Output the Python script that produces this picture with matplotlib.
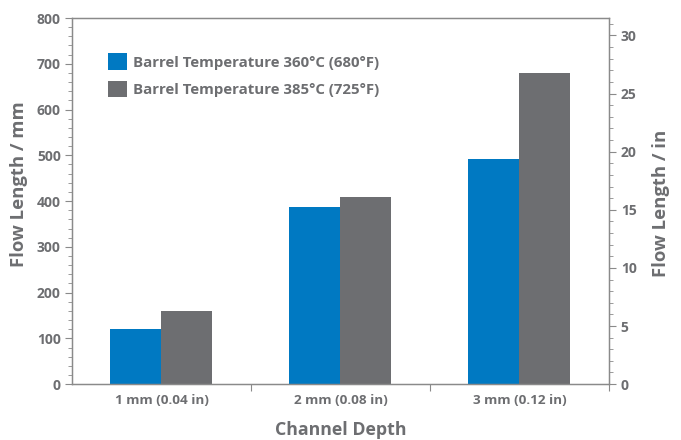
import numpy as np
import matplotlib.pyplot as plt
from matplotlib.ticker import MultipleLocator

plt.rcParams['font.family'] = ['Open Sans', 'DejaVu Sans']
plt.rcParams['font.weight'] = 'bold'

categories = ["1 mm (0.04 in)", "2 mm (0.08 in)", "3 mm (0.12 in)"]
flow_360 = [120, 388, 492]
flow_385 = [160, 410, 680]
labels = ["Barrel Temperature 360\u00b0C (680\u00b0F)", "Barrel Temperature 385\u00b0C (725\u00b0F)"]

blue = "#0079c2"
grey = "#6d6e71"
text_col = "#6d6e71"
axis_col = "#8a8a8a"

fig = plt.figure(figsize=(6.81, 4.40), dpi=100)
ax = fig.add_axes([0.1057, 0.127, 0.7885, 0.832])

x = np.arange(len(categories))
w = 0.285
ax.bar(x - w / 2, flow_360, w, color=blue, label=labels[0])
ax.bar(x + w / 2, flow_385, w, color=grey, label=labels[1])

ax.set_xlim(-0.5, 2.5)
ax.set_ylim(0, 800)
ax.yaxis.set_major_locator(MultipleLocator(100))
ax.yaxis.set_minor_locator(MultipleLocator(20))
ax.set_xticks([0.5, 1.5, 2.5])
ax.set_xticklabels([])
ax.set_xticks(x, minor=True)
ax.set_xticklabels(categories, minor=True)
ax.tick_params(axis='x', which='minor', length=0, pad=7, labelsize=9.7)
ax.tick_params(axis='x', which='major', length=5, color=axis_col)
ax.tick_params(axis='y', which='major', length=5, color=axis_col, pad=3, labelsize=10)
ax.tick_params(axis='y', which='minor', length=3, color=axis_col)
ax.tick_params(which='both', labelcolor=text_col)
for s in ax.spines.values():
    s.set_color(axis_col)
    s.set_linewidth(1)

ax.set_ylabel("Flow Length / mm", fontsize=13.3, fontweight='bold', color=text_col)
ax.yaxis.set_label_coords(-0.082, 0.546)
ax.set_xlabel("Channel Depth", fontsize=12.8, fontweight='bold', color=text_col, labelpad=10)

ax2 = ax.twinx()
ax2.set_ylim(0, 800 / 25.4)
ax2.yaxis.set_major_locator(MultipleLocator(5))
ax2.yaxis.set_minor_locator(MultipleLocator(1))
ax2.tick_params(axis='y', which='major', length=5, color=axis_col, labelsize=10, labelcolor=text_col)
ax2.tick_params(axis='y', which='minor', length=3, color=axis_col)
for s in ax2.spines.values():
    s.set_color(axis_col)
ax2.set_ylabel("Flow Length / in", fontsize=13.3, fontweight='bold', color=text_col)
ax2.yaxis.set_label_coords(1.08, 0.495)

for lab in ax.get_xticklabels(minor=True) + ax.get_yticklabels() + ax2.get_yticklabels():
    lab.set_fontweight('bold')

leg = ax.legend(loc='upper left', bbox_to_anchor=(0.055, 0.92), frameon=False,
                handlelength=1.3, handleheight=1.3, handletextpad=0.4,
                labelspacing=0.75, borderaxespad=0, prop={'weight': 'bold', 'size': 10.8})
for t in leg.get_texts():
    t.set_color(text_col)

fig.savefig("out.png", dpi=100)
